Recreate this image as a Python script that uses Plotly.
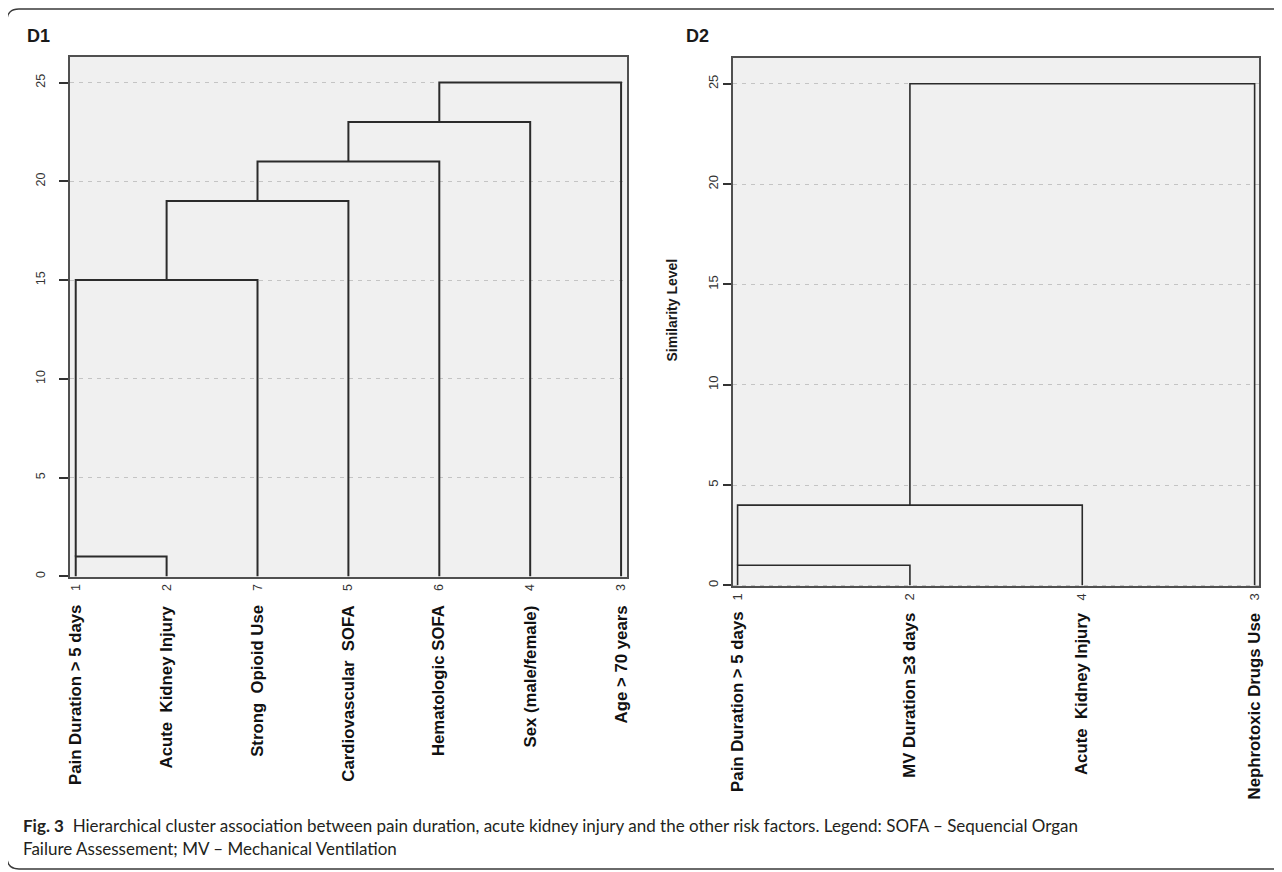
import plotly.graph_objects as go

W, H = 1282, 872
OFF = 8            # page body margin of the html wrapper
FW, FH = W - OFF, H - OFF

# ---------------- data ----------------
d1_case_ids = ["1", "2", "7", "5", "6", "4", "3"]
d1_names = ["Pain Duration > 5 days", "Acute\u00a0 Kidney Injury", "Strong\u00a0 Opioid Use",
            "Cardiovascular\u00a0 SOFA", "Hematologic SOFA", "Sex (male/female)", "Age > 70 years"]
# merges: (cluster containing case a, cluster containing case b, rescaled distance)
d1_merges = [("1", "2", 1), ("1", "7", 15), ("1", "5", 19), ("1", "6", 21), ("1", "4", 23), ("1", "3", 25)]

d2_case_ids = ["1", "2", "4", "3"]
d2_names = ["Pain Duration > 5 days", "MV Duration \u22653 days", "Acute\u00a0 Kidney Injury", "Nephrotoxic Drugs Use"]
d2_merges = [("1", "2", 1), ("1", "4", 4), ("1", "3", 25)]

y_ticks = [0, 5, 10, 15, 20, 25]
caption_line1 = ("<b>Fig. 3</b>\u00a0\u00a0Hierarchical cluster association between pain duration, acute kidney injury "
                 "and the other risk factors. Legend: SOFA \u2013 Sequencial Organ")
caption_line2 = "Failure Assessement; MV \u2013 Mechanical Ventilation"


def dendro_segments(case_ids, merges):
    pos = {c: i + 1 for i, c in enumerate(case_ids)}
    cluster_of = {c: c for c in case_ids}
    node_x = {c: float(pos[c]) for c in case_ids}
    node_h = {c: 0.0 for c in case_ids}
    xs, ys = [], []
    for a, b, h in merges:
        ca, cb = cluster_of[a], cluster_of[b]
        xa, xb = node_x[ca], node_x[cb]
        ha, hb = node_h[ca], node_h[cb]
        xs += [xa, xa, xb, xb, None]
        ys += [ha, h, h, hb, None]
        new = ca + "+" + cb
        # SPSS-style: the lowest join keeps the left case's stem, later joins sit at the midpoint
        node_x[new] = xa if h <= 1 else (xa + xb) / 2
        node_h[new] = h
        for c, cl in list(cluster_of.items()):
            if cl in (ca, cb):
                cluster_of[c] = new
    return xs, ys


def px_x(p):
    return (p - OFF) / FW


def px_y(p):
    return 1 - (p - OFF) / FH


fig = go.Figure()

x1, y1 = dendro_segments(d1_case_ids, d1_merges)
x2, y2 = dendro_segments(d2_case_ids, d2_merges)

fig.add_trace(go.Scatter(x=x1, y=y1, mode="lines", line=dict(color="#2b2b2b", width=2),
                         xaxis="x", yaxis="y", showlegend=False, hoverinfo="skip"))
fig.add_trace(go.Scatter(x=x2, y=y2, mode="lines", line=dict(color="#2b2b2b", width=1.6),
                         xaxis="x2", yaxis="y2", showlegend=False, hoverinfo="skip"))

axis_common = dict(showline=True, mirror=True, linecolor="#505050", linewidth=1.5, zeroline=False)
tick_font = dict(family="Liberation Sans, Arial, sans-serif", size=12.5, color="#333333")

fig.update_layout(
    width=FW, height=FH,
    margin=dict(l=0, r=0, t=0, b=0, pad=0),
    paper_bgcolor="white",
    plot_bgcolor="#f0f0f0",
    showlegend=False,
    xaxis=dict(domain=[px_x(67), px_x(627)], range=[0.934, 7.066],
               tickmode="array", tickvals=list(range(1, len(d1_case_ids) + 1)), ticktext=d1_case_ids,
               tickangle=-90, ticks="", showgrid=False, tickfont=tick_font, anchor="y", **axis_common),
    yaxis=dict(domain=[px_y(578), px_y(57)], range=[-0.05, 26.3],
               tickmode="array", tickvals=y_ticks, ticktext=[str(v) for v in y_ticks],
               tickangle=-90, ticks="outside", ticklen=9, tickwidth=2, tickcolor="#333333",
               ticklabelstandoff=9, tickfont=tick_font,
               showgrid=True, gridcolor="#c4c4c4", gridwidth=1, griddash="4px,5px", anchor="x", **axis_common),
    xaxis2=dict(domain=[px_x(733), px_x(1262)], range=[0.971, 4.026],
                tickmode="array", tickvals=list(range(1, len(d2_case_ids) + 1)), ticktext=d2_case_ids,
                tickangle=-90, ticks="", showgrid=False, tickfont=dict(tick_font, size=13), anchor="y2", **axis_common),
    yaxis2=dict(domain=[px_y(587), px_y(58)], range=[-0.05, 26.29],
                tickmode="array", tickvals=y_ticks, ticktext=[str(v) for v in y_ticks],
                tickangle=-90, ticks="outside", ticklen=8, tickwidth=1.5, tickcolor="#333333",
                tickfont=dict(tick_font, size=13),
                showgrid=True, gridcolor="#c4c4c4", gridwidth=1, griddash="4px,5px", anchor="x2", **axis_common),
)

annos = []
label_font = dict(family="Liberation Sans, Arial, sans-serif", size=16.8, color="#111111")
for i, name in enumerate(d1_names):
    annos.append(dict(x=i + 1, xref="x", y=px_y(604), yref="paper", text="<b>" + name + "</b>",
                      textangle=-90, xanchor="center", yanchor="top", showarrow=False, font=label_font))
for i, name in enumerate(d2_names):
    annos.append(dict(x=i + 1, xref="x2", y=px_y(611), yref="paper", text="<b>" + name + "</b>",
                      textangle=-90, xanchor="center", yanchor="top", showarrow=False, font=label_font))

title_font = dict(family="Liberation Sans, Arial, sans-serif", size=18, color="#1a1a1a")
annos.append(dict(x=px_x(22), y=px_y(36), xref="paper", yref="paper", text="<b>D1</b>",
                  xanchor="left", yanchor="middle", showarrow=False, font=title_font))
annos.append(dict(x=px_x(684), y=px_y(36), xref="paper", yref="paper", text="<b>D2</b>",
                  xanchor="left", yanchor="middle", showarrow=False, font=title_font))
annos.append(dict(x=px_x(672), y=px_y(310), xref="paper", yref="paper", text="<b>Similarity Level</b>",
                  textangle=-90, xanchor="center", yanchor="middle", showarrow=False,
                  font=dict(family="Liberation Sans, Arial, sans-serif", size=14, color="#1a1a1a")))

cap_font = dict(family="Lato, Open Sans, sans-serif", size=17, color="#231f20")
annos.append(dict(x=px_x(18), y=px_y(826), xref="paper", yref="paper", text=caption_line1,
                  xanchor="left", yanchor="middle", showarrow=False, font=cap_font, align="left"))
annos.append(dict(x=px_x(18), y=px_y(849), xref="paper", yref="paper", text=caption_line2,
                  xanchor="left", yanchor="middle", showarrow=False, font=cap_font, align="left"))

fig.update_layout(annotations=annos)

# outer rounded frame (figure decoration)
r = 12
L, T, B, R = 4, 9, 870, 1300
pts = [("M", R, T), ("L", L + r, T), ("Q", L, T, L, T + r), ("L", L, B - r), ("Q", L, B, L + r, B), ("L", R, B)]
path = ""
for p in pts:
    if p[0] == "Q":
        path += "Q {:.5f},{:.5f} {:.5f},{:.5f} ".format(px_x(p[1]), px_y(p[2]), px_x(p[3]), px_y(p[4]))
    else:
        path += "{} {:.5f},{:.5f} ".format(p[0], px_x(p[1]), px_y(p[2]))
fig.add_shape(type="path", path=path.strip(), xref="paper", yref="paper",
              line=dict(color="#3a3a3a", width=1.3), layer="below")

fig.write_html("out.html")
